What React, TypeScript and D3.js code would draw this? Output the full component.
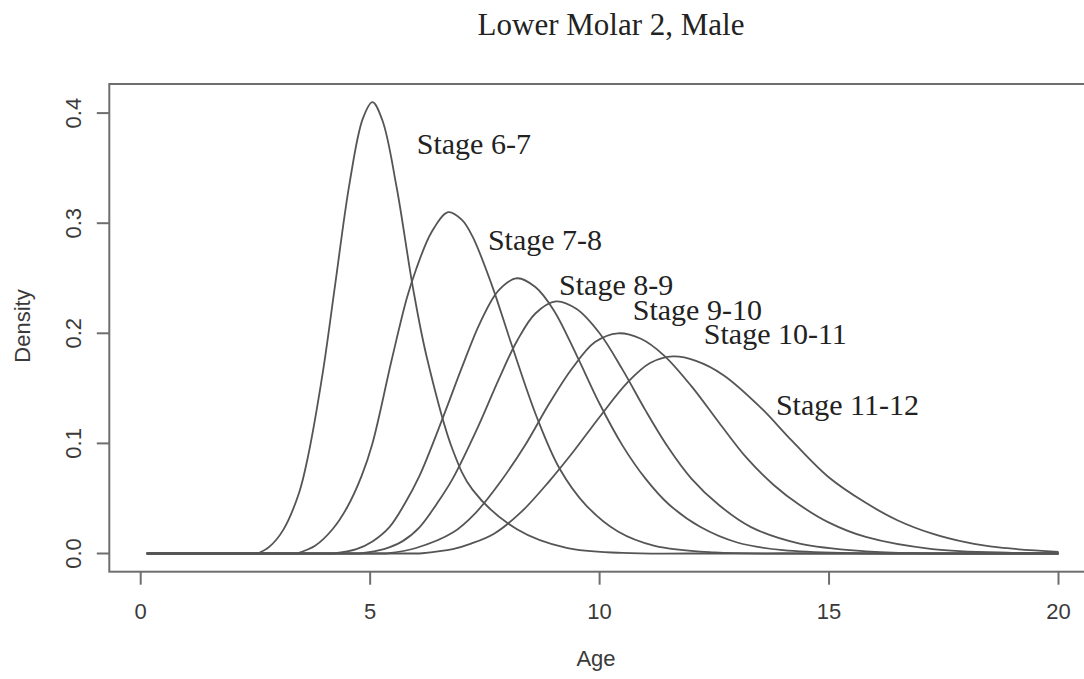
import React from "react";
import * as d3 from "d3";

// ---------- data ----------
const xTicks = [0, 5, 10, 15, 20];
const yTicks = [0, 0.1, 0.2, 0.3, 0.4];
const yTickLabels = ["0.0", "0.1", "0.2", "0.3", "0.4"];
const chartTitle = "Lower Molar 2, Male";
const xLabel = "Age";
const yLabel = "Density";

const stageNames = ["Stage 6-7", "Stage 7-8", "Stage 8-9", "Stage 9-10", "Stage 10-11", "Stage 11-12"];
// label anchor (age, density)
const labelAge = [7.26, 8.81, 10.36, 12.13, 13.83, 15.4];
const labelDensity = [0.363, 0.276, 0.235, 0.212, 0.19, 0.126];

// density curves: [age, density]
const stage67: [number, number][] = [
  [0.13, 0], [2.55, 0], [2.8, 0.006], [3.1, 0.021], [3.45, 0.055], [3.64, 0.087], [3.97, 0.165],
  [4.23, 0.242], [4.55, 0.336], [4.84, 0.395], [5.05, 0.41], [5.27, 0.393], [5.58, 0.332],
  [5.93, 0.242], [6.23, 0.179], [6.8, 0.094], [7.23, 0.058], [8.2, 0.022], [9.28, 0.005],
  [10.5, 0.0005], [12, 0], [20, 0],
];
const stage78: [number, number][] = [
  [0.13, 0], [3.4, 0], [3.8, 0.007], [4.18, 0.022], [4.5, 0.042], [4.81, 0.07], [5.05, 0.1],
  [5.47, 0.176], [5.8, 0.232], [6.0, 0.258], [6.34, 0.292], [6.7, 0.31], [7.0, 0.303],
  [7.23, 0.288], [7.65, 0.244], [8.08, 0.19], [8.63, 0.124], [9.13, 0.077], [9.7, 0.044],
  [10.4, 0.02], [11.2, 0.007], [12.5, 0.001], [14, 0], [20, 0],
];
const stage89: [number, number][] = [
  [0.13, 0], [4.2, 0], [4.7, 0.004], [5.05, 0.011], [5.42, 0.024], [5.75, 0.045], [6.08, 0.071],
  [6.6, 0.125], [7.0, 0.169], [7.4, 0.21], [7.8, 0.239], [8.2, 0.25], [8.6, 0.242], [9.0, 0.221],
  [9.5, 0.18], [10.0, 0.136], [10.5, 0.098], [11.0, 0.068], [11.5, 0.045], [12.2, 0.024],
  [13.0, 0.01], [14.0, 0.003], [15.5, 0.0003], [17, 0], [20, 0],
];
const stage910: [number, number][] = [
  [0.13, 0], [4.77, 0], [5.3, 0.004], [5.7, 0.011], [6.08, 0.024], [6.45, 0.045], [6.8, 0.068],
  [7.35, 0.115], [7.8, 0.158], [8.2, 0.193], [8.6, 0.218], [9.05, 0.229], [9.5, 0.222],
  [10.0, 0.2], [10.5, 0.167], [11.0, 0.13], [11.5, 0.096], [12.0, 0.068], [12.6, 0.044],
  [13.3, 0.024], [14.36, 0.009], [15.8, 0.002], [17, 0.0002], [18, 0], [20, 0],
];
const stage1011: [number, number][] = [
  [0.13, 0], [5.36, 0], [6.0, 0.005], [6.8, 0.019], [7.3, 0.037], [7.82, 0.064], [8.4, 0.1],
  [8.9, 0.136], [9.4, 0.168], [9.9, 0.192], [10.4, 0.2], [10.9, 0.195], [11.4, 0.18], [12.0, 0.152],
  [12.6, 0.119], [13.2, 0.087], [13.8, 0.062], [14.36, 0.044], [15.0, 0.028], [15.8, 0.015],
  [17.25, 0.004], [19, 0.0006], [20, 0.0002],
];
const stage1112: [number, number][] = [
  [0.13, 0], [6.08, 0], [6.8, 0.004], [7.2, 0.009], [7.7, 0.018], [8.3, 0.038], [8.91, 0.066],
  [9.4, 0.091], [10.0, 0.124], [10.6, 0.155], [11.1, 0.173], [11.6, 0.179], [12.1, 0.175],
  [12.7, 0.162], [13.5, 0.133], [14.2, 0.102], [15.0, 0.069], [15.8, 0.046], [16.5, 0.03],
  [17.25, 0.018], [18.0, 0.01], [18.7, 0.0055], [20, 0.0015],
];
const stageCurves = [stage67, stage78, stage89, stage910, stage1011, stage1112];

// ---------- layout ----------
const W = 1084;
const H = 679;
const box = { left: 109.3, top: 84, right: 1095, bottom: 571.7 };

export default function App() {
  const x = d3.scaleLinear().domain([0, 20]).range([140.7, 1058.5]);
  const y = d3.scaleLinear().domain([0, 0.4]).range([553.5, 113.1]);
  const smooth = d3
    .line<[number, number]>()
    .x((d) => x(d[0]))
    .y((d) => y(d[1]))
    .curve(d3.curveCatmullRom.alpha(0.5));

  // flat zero stretches are straight, the rest is a smooth curve through the read points
  const curvePath = (pts: [number, number][]) => {
    let a = 0;
    while (a + 1 < pts.length && pts[a + 1][1] === 0) a++;
    let b = pts.length - 1;
    while (b - 1 > a && pts[b - 1][1] === 0) b--;
    const mid = pts.slice(a, b + 1);
    let d = `M${x(pts[0][0])},${y(0)}L${x(pts[a][0])},${y(0)}`;
    d += (smooth(mid) || "").replace(/^M/, "L");
    if (b < pts.length - 1) d += `L${x(pts[pts.length - 1][0])},${y(0)}`;
    return d;
  };

  const sans = "'Liberation Sans', Arial, Helvetica, sans-serif";
  const serif = "'Liberation Serif', 'Times New Roman', serif";
  const axisColor = "#6e6e6e";
  const textColor = "#3a3a3a";

  return (
    <svg
      width={W}
      height={H}
      style={{ position: "absolute", left: 0, top: 0, background: "#fff" }}
    >
      <rect x={0} y={0} width={W} height={H} fill="#fff" />
      <text x={611} y={35} textAnchor="middle" fontFamily={serif} fontSize={31} fill="#222">
        {chartTitle}
      </text>

      {/* curves */}
      {stageCurves.map((c, i) => (
        <path key={i} d={curvePath(c)} fill="none" stroke="#555" strokeWidth={1.8} />
      ))}

      {/* plot box */}
      <rect
        x={box.left}
        y={box.top}
        width={box.right - box.left}
        height={box.bottom - box.top}
        fill="none"
        stroke={axisColor}
        strokeWidth={2}
      />

      {/* x axis */}
      {xTicks.map((t) => (
        <g key={"x" + t}>
          <line x1={x(t)} x2={x(t)} y1={box.bottom} y2={box.bottom + 13} stroke={axisColor} strokeWidth={2} />
          <text x={x(t)} y={619} textAnchor="middle" fontFamily={sans} fontSize={22} fill={textColor}>
            {t}
          </text>
        </g>
      ))}
      <text x={596} y={666} textAnchor="middle" fontFamily={sans} fontSize={22} fill={textColor}>
        {xLabel}
      </text>

      {/* y axis */}
      {yTicks.map((t, i) => (
        <g key={"y" + t}>
          <line x1={box.left - 12.5} x2={box.left} y1={y(t)} y2={y(t)} stroke={axisColor} strokeWidth={2} />
          <text
            transform={`translate(80.5,${y(t)}) rotate(-90)`}
            textAnchor="middle"
            fontFamily={sans}
            fontSize={22}
            fill={textColor}
          >
            {yTickLabels[i]}
          </text>
        </g>
      ))}
      <text
        transform={`translate(30,326) rotate(-90)`}
        textAnchor="middle"
        fontFamily={sans}
        fontSize={22}
        fill={textColor}
      >
        {yLabel}
      </text>

      {/* stage labels */}
      {stageNames.map((s, i) => (
        <text
          key={s}
          x={x(labelAge[i])}
          y={y(labelDensity[i])}
          textAnchor="middle"
          fontFamily={serif}
          fontSize={30}
          fill="#222"
        >
          {s}
        </text>
      ))}
    </svg>
  );
}
